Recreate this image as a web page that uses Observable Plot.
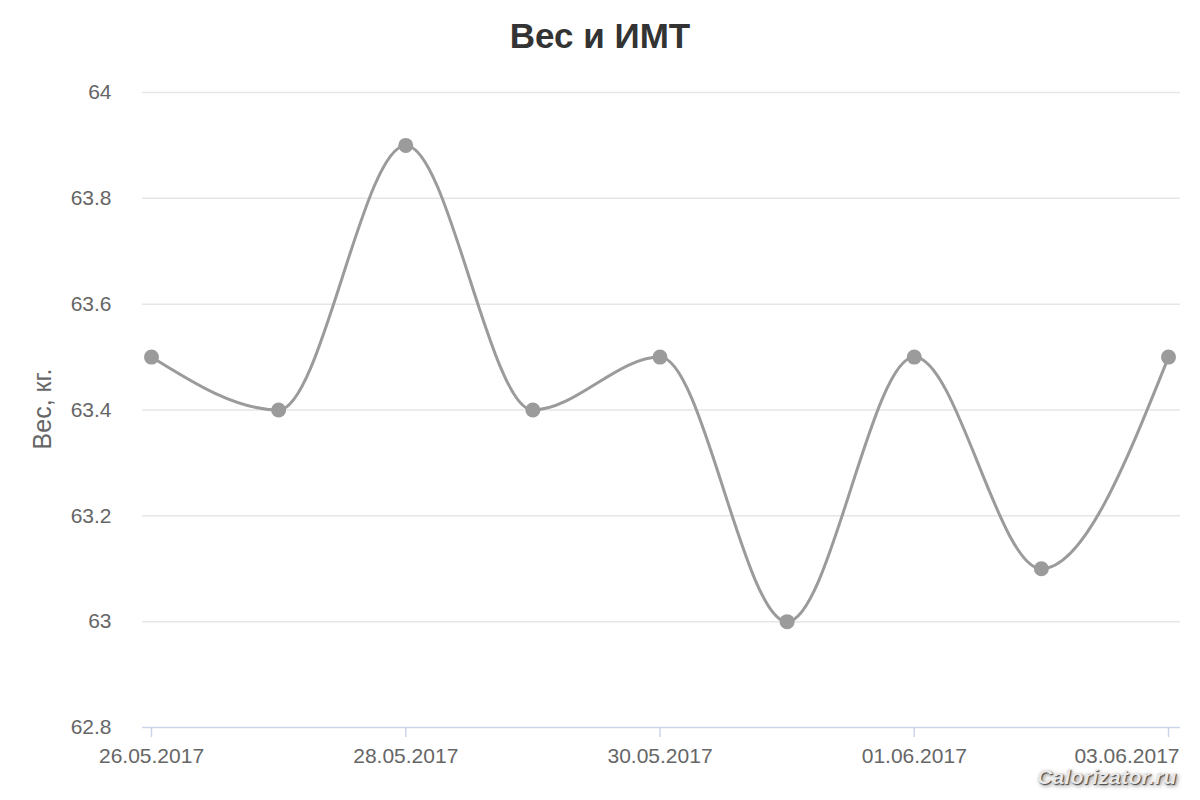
<!DOCTYPE html>
<html>
<head>
<meta charset="utf-8">
<script src="https://cdn.jsdelivr.net/npm/d3@7"></script>
<script src="https://cdn.jsdelivr.net/npm/@observablehq/plot@0.6"></script>
<style>
  html, body { margin: 0; padding: 0; background: #fff; }
  #wrap { position: relative; width: 1200px; height: 800px; font-family: "Liberation Sans", Arial, sans-serif; }
  #title { height: 70px; line-height: 72px; text-align: center; font-size: 35px; font-weight: bold; color: #333; }
  #wm { position: absolute; left: 1037px; top: 765px; font-size: 21px; font-weight: bold; font-style: italic; color: #e8e8e8;
        text-shadow: 1px 1px 1px #444, 2px 2px 4px #888; letter-spacing: 0.3px; }
</style>
</head>
<body>
<div id="wrap">
  <div id="title">Вес и ИМТ</div>
  <div id="chart"></div>
  <div id="wm">Calorizator.ru</div>
</div>
<script>
const dates = ["26.05.2017","27.05.2017","28.05.2017","29.05.2017","30.05.2017","31.05.2017","01.06.2017","02.06.2017","03.06.2017"];
const weights = [63.5, 63.4, 63.9, 63.4, 63.5, 63.0, 63.5, 63.1, 63.5];
const yTicks = [62.8, 63, 63.2, 63.4, 63.6, 63.8, 64];
const xTickIdx = [0, 2, 4, 6, 8];
const yLabel = "Вес, кг.";

const data = dates.map((d, i) => ({i, date: d, w: weights[i]}));
const lastIdx = xTickIdx[xTickIdx.length - 1];

const chart = Plot.plot({
  width: 1200,
  height: 730,
  marginTop: 22,
  marginBottom: 73,
  marginLeft: 142,
  marginRight: 20,
  insetLeft: 9,
  insetRight: 12,
  style: {fontFamily: '"Liberation Sans", Arial, sans-serif', fontSize: "21px", color: "#666", background: "#fff"},
  x: {domain: [0, dates.length - 1]},
  y: {domain: [62.8, 64]},
  marks: [
    Plot.ruleY(yTicks.filter(t => t !== 62.8), {stroke: "#e6e6e6", strokeWidth: 1.5, strokeOpacity: 1}),
    Plot.ruleY([62.8], {stroke: "#ccd6eb", strokeWidth: 1.5, strokeOpacity: 1}),
    Plot.axisY(yTicks, {tickSize: 0, tickPadding: 31, tickFormat: d => String(+d.toFixed(1)), fill: "#666", fontSize: 21, label: null}),
    Plot.axisX(xTickIdx, {tickSize: 10, stroke: "#ccd6eb", strokeWidth: 1.5, tickPadding: 10, text: null, label: null}),
    Plot.axisX(xTickIdx.filter(i => i !== lastIdx), {tickSize: 0, tickPadding: 21, tickFormat: i => dates[i], fill: "#666", fontSize: 21, label: null}),
    Plot.axisX([lastIdx], {tickSize: 0, tickPadding: 21, tickFormat: i => dates[i], fill: "#666", fontSize: 21, label: null, textAnchor: "end", dx: 11}),
    Plot.text([yLabel], {frameAnchor: "left", textAnchor: "middle", dx: -100, dy: -1, rotate: -90, fontSize: 25, fill: "#666"}),
    Plot.line(data, {x: "i", y: "w", stroke: "#9b9b9b", strokeWidth: 3, curve: "monotone-x"}),
    Plot.dot(data, {x: "i", y: "w", r: 7.5, fill: "#9b9b9b", stroke: "none"})
  ]
});
document.getElementById("chart").appendChild(chart);
</script>
</body>
</html>
